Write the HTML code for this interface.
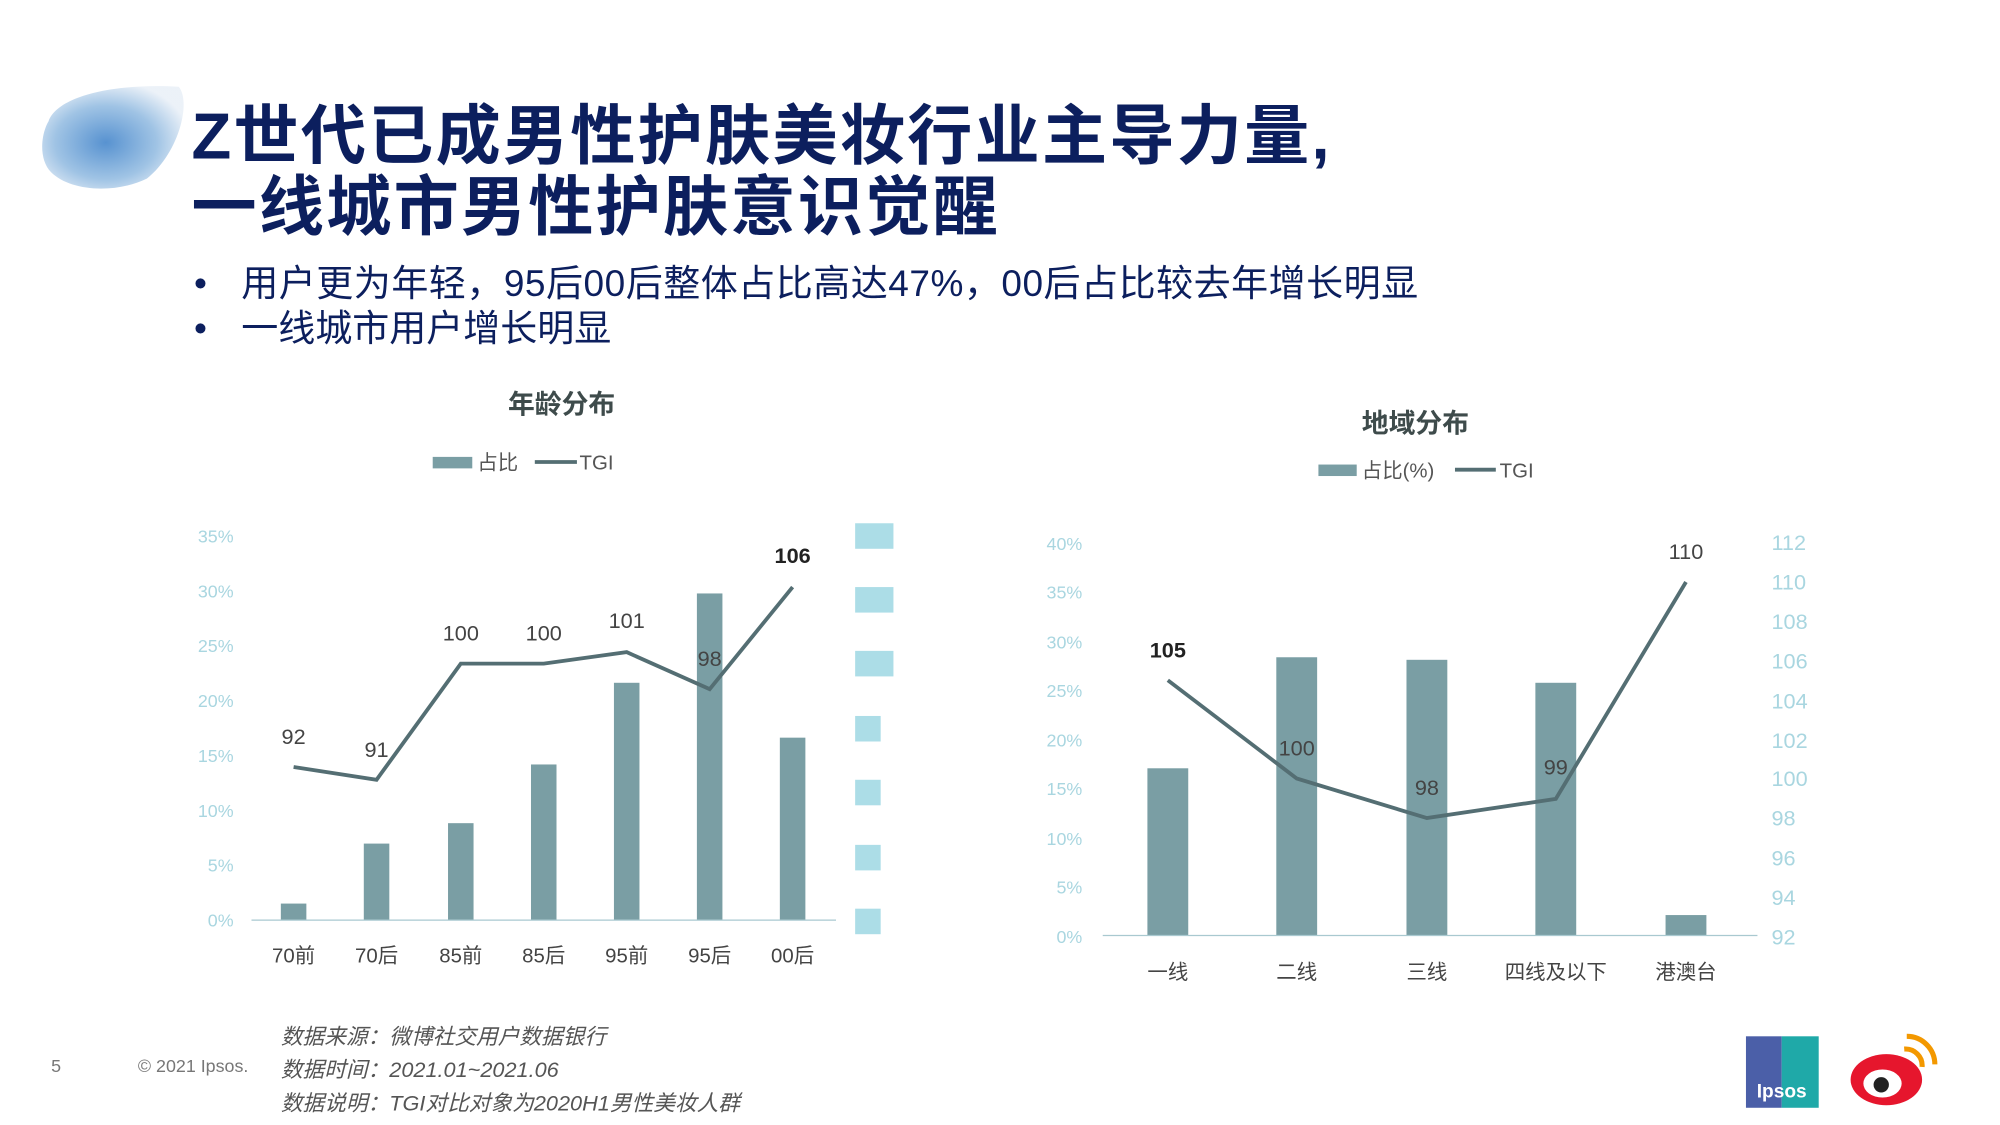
<!DOCTYPE html>
<html><head><meta charset="utf-8"><style>
html,body{margin:0;padding:0;background:#fff;}
svg{display:block;}
text{font-family:"Liberation Sans","Noto Sans CJK SC",sans-serif;}
</style></head><body>
<svg width="2000" height="1125" viewBox="0 0 1567 881.5" xmlns="http://www.w3.org/2000/svg">
<defs>
<radialGradient id="g1" cx="0.45" cy="0.55" r="0.6"><stop offset="0" stop-color="#3a7fc8"/><stop offset="0.6" stop-color="#8fb9e0"/><stop offset="1" stop-color="#e8eff7"/></radialGradient>
</defs>
<path d="M38,95 C45,75 90,65 140,68 C150,80 140,120 115,140 C90,152 55,150 40,135 C30,125 32,105 38,95Z" fill="url(#g1)" opacity="0.85"/>
<g fill="#0c1f5e" font-weight="bold" font-size="51">
<text x="150" y="124" letter-spacing="1.8">Z世代已成男性护肤美妆行业主导力量,</text>
<text x="150" y="180" letter-spacing="1.8">一线城市男性护肤意识觉醒</text>
</g>
<g fill="#0c1f5e" font-size="29">
<text x="152" y="232">•</text><text x="189" y="232" letter-spacing="0.4">用户更为年轻，95后00后整体占比高达47%，00后占比较去年增长明显</text>
<text x="152" y="267">•</text><text x="189" y="267">一线城市用户增长明显</text>
</g>
<text x="440" y="324" text-anchor="middle" font-size="21" font-weight="bold" fill="#3e4b4b">年龄分布</text>
<rect x="339" y="358" width="31" height="9" fill="#7a9ea4"/>
<text x="374" y="368" font-size="16" fill="#555">占比</text>
<line x1="419" y1="362" x2="452" y2="362" stroke="#546e73" stroke-width="3"/>
<text x="454" y="368" font-size="16" fill="#555">TGI</text>
<g font-size="14" fill="#a9d6e0" text-anchor="end">
<text x="183" y="425">35%</text><text x="183" y="468">30%</text><text x="183" y="511">25%</text><text x="183" y="554">20%</text><text x="183" y="597">15%</text><text x="183" y="640">10%</text><text x="183" y="683">5%</text><text x="183" y="726">0%</text>
</g>
<g fill="#7a9ea4">
<rect x="220" y="708" width="20" height="13"/>
<rect x="285" y="661" width="20" height="60"/>
<rect x="351" y="645" width="20" height="76"/>
<rect x="416" y="599" width="20" height="122"/>
<rect x="481" y="535" width="20" height="186"/>
<rect x="546" y="465" width="20" height="256"/>
<rect x="611" y="578" width="20" height="143"/>
</g>
<line x1="197" y1="721" x2="655" y2="721" stroke="#a9c9d0" stroke-width="1"/>
<polyline points="230,601 295,611 361,520 426,520 491,511 556,540 621,460" fill="none" stroke="#546e73" stroke-width="3"/>
<g font-size="17" fill="#444" text-anchor="middle">
<text x="230" y="583">92</text><text x="295" y="593">91</text><text x="361" y="502">100</text><text x="426" y="502">100</text><text x="491" y="492">101</text><text x="556" y="522">98</text>
<text x="621" y="441" font-weight="bold" fill="#222">106</text>
</g>
<g font-size="16" fill="#444" text-anchor="middle">
<text x="230" y="754">70前</text><text x="295" y="754">70后</text><text x="361" y="754">85前</text><text x="426" y="754">85后</text><text x="491" y="754">95前</text><text x="556" y="754">95后</text><text x="621" y="754">00后</text>
</g>
<g fill="#acdde7">
<rect x="670" y="410" width="30" height="20"/><rect x="670" y="460" width="30" height="20"/><rect x="670" y="510" width="30" height="20"/>
<rect x="670" y="561" width="20" height="20"/><rect x="670" y="611" width="20" height="20"/><rect x="670" y="662" width="20" height="20"/><rect x="670" y="712" width="20" height="20"/>
</g>
<text x="1109" y="339" text-anchor="middle" font-size="21" font-weight="bold" fill="#3e4b4b">地域分布</text>
<rect x="1033" y="364" width="30" height="9" fill="#7a9ea4"/>
<text x="1067" y="374" font-size="16" fill="#555">占比(%)</text>
<line x1="1140" y1="368" x2="1172" y2="368" stroke="#546e73" stroke-width="3"/>
<text x="1175" y="374" font-size="16" fill="#555">TGI</text>
<g font-size="14" fill="#a9d6e0" text-anchor="end">
<text x="848" y="431">40%</text><text x="848" y="469">35%</text><text x="848" y="508">30%</text><text x="848" y="546">25%</text><text x="848" y="585">20%</text><text x="848" y="623">15%</text><text x="848" y="662">10%</text><text x="848" y="700">5%</text><text x="848" y="739">0%</text>
</g>
<g font-size="17" fill="#a9d6e0">
<text x="1388" y="431">112</text><text x="1388" y="462">110</text><text x="1388" y="493">108</text><text x="1388" y="524">106</text><text x="1388" y="555">104</text><text x="1388" y="586">102</text><text x="1388" y="616">100</text><text x="1388" y="647">98</text><text x="1388" y="678">96</text><text x="1388" y="709">94</text><text x="1388" y="740">92</text>
</g>
<g fill="#7a9ea4">
<rect x="899" y="602" width="32" height="131"/>
<rect x="1000" y="515" width="32" height="218"/>
<rect x="1102" y="517" width="32" height="216"/>
<rect x="1203" y="535" width="32" height="198"/>
<rect x="1305" y="717" width="32" height="16"/>
</g>
<line x1="864" y1="733" x2="1377" y2="733" stroke="#a9c9d0" stroke-width="1"/>
<polyline points="915,533 1016,610 1118,641 1219,626 1321,456" fill="none" stroke="#546e73" stroke-width="3"/>
<g font-size="17" fill="#444" text-anchor="middle">
<text x="915" y="515" font-weight="bold" fill="#222">105</text><text x="1016" y="592">100</text><text x="1118" y="623">98</text><text x="1219" y="607">99</text><text x="1321" y="438">110</text>
</g>
<g font-size="16" fill="#444" text-anchor="middle">
<text x="915" y="767">一线</text><text x="1016" y="767">二线</text><text x="1118" y="767">三线</text><text x="1219" y="767">四线及以下</text><text x="1321" y="767">港澳台</text>
</g>
<text x="40" y="840" font-size="14" fill="#777">5</text>
<text x="108" y="840" font-size="14" fill="#777">© 2021 Ipsos.</text>
<g font-size="17" fill="#555" font-style="italic">
<text x="220" y="818">数据来源：微博社交用户数据银行</text>
<text x="220" y="844">数据时间：2021.01~2021.06</text>
<text x="220" y="870">数据说明：TGI对比对象为2020H1男性美妆人群</text>
</g>
<rect x="1368" y="812" width="28" height="56" fill="#4b5fa8"/>
<rect x="1396" y="812" width="29" height="56" fill="#1fa9a8"/>
<text x="1396" y="860" font-size="15" fill="#fff" text-anchor="middle" font-weight="bold">Ipsos</text>
<ellipse cx="1478" cy="846" rx="28" ry="20" fill="#e6162d"/>
<ellipse cx="1475" cy="849" rx="15" ry="11" fill="#fff"/>
<circle cx="1474" cy="850" r="6" fill="#222"/>
<path d="M1492,822 A13,13 0 0 1 1506,836" fill="none" stroke="#f39800" stroke-width="4"/>
<path d="M1494,812 A22,22 0 0 1 1516,834" fill="none" stroke="#f39800" stroke-width="4"/>
</svg>
</body></html>
